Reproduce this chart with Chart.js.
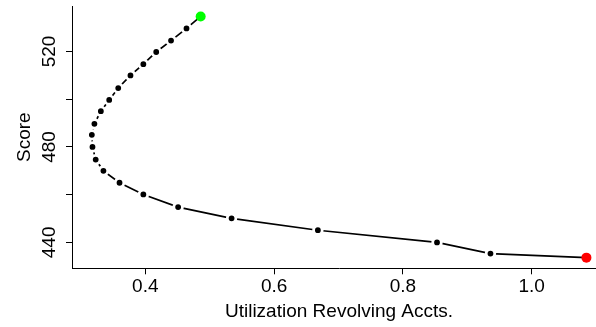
<!DOCTYPE html>
<html>
<head>
<meta charset="utf-8">
<script src="https://cdn.jsdelivr.net/npm/chart.js@4.4.1/dist/chart.umd.min.js"></script>
<style>
  html, body { margin: 0; padding: 0; overflow: hidden; background: #fff; }
  /* the plot runs a little past the right edge of the picture, as in the original */
  #wrap { width: 611px; height: 327px; }
</style>
</head>
<body>
<div id="wrap"><canvas id="grafico"></canvas></div>
<script>
// utilization values, one per step of the score curve
const utilizacao = [0.486, 0.464, 0.440, 0.417, 0.397, 0.377, 0.358, 0.344, 0.331, 0.321, 0.317, 0.318,
                    0.323, 0.335, 0.360, 0.397, 0.451, 0.534, 0.668, 0.853, 0.936, 1.085];
const score = [534.7, 529.7, 524.6, 519.8, 514.7, 510.0, 504.7, 499.7, 495.0, 489.7, 485.1, 480.0,
               474.7, 470.0, 465.0, 460.1, 454.8, 450.1, 445.1, 440.0, 435.3, 433.6];
const ticksX = [0.4, 0.6, 0.8, 1.0];
const ticksY = [440, 480, 520]; // labelled ticks (460 and 500 only get a mark)

const pontos = utilizacao.map((x, i) => ({ x: x, y: score[i] }));
const ultimo = pontos.length - 1;

Chart.defaults.font.family = '"Liberation Sans", Arial, sans-serif';
Chart.defaults.color = '#000';

const grafico = document.getElementById('grafico');

new Chart(grafico, {
  type: 'scatter',
  data: {
    datasets: [{
      data: pontos,
      showLine: true,
      tension: 0,
      borderColor: '#000',
      borderWidth: 1.7,
      // white ring around each dot leaves the small gap in the line
      pointRadius: pontos.map((p, i) => (i === 0 || i === ultimo) ? 5 : 4.3),
      pointBorderWidth: pontos.map((p, i) => (i === 0 || i === ultimo) ? 0 : 2.8),
      pointBorderColor: '#fff',
      pointBackgroundColor: pontos.map((p, i) => i === 0 ? '#00ff00' : (i === ultimo ? '#ff0000' : '#000')),
      pointHoverRadius: 0
    }]
  },
  options: {
    responsive: true,
    maintainAspectRatio: false,
    animation: false,
    events: [],
    layout: { padding: { left: 13, top: 6, right: 0, bottom: 3.6 } },
    plugins: {
      legend: { display: false },
      tooltip: { enabled: false }
    },
    scales: {
      x: {
        type: 'linear',
        min: 0.2862,
        max: 1.1154,
        grid: { drawOnChartArea: false, drawTicks: true, tickLength: 6, color: '#000' },
        border: { display: true, color: '#000', width: 1 },
        ticks: {
          stepSize: 0.2,
          includeBounds: false,
          maxRotation: 0,
          padding: 1,
          font: { size: 19 },
          callback: v => ticksX.some(t => Math.abs(t - v) < 1e-6) ? v.toFixed(1) : ''
        },
        title: {
          display: true,
          text: 'Utilization Revolving Accts.',
          font: { size: 19 },
          padding: { top: 1.5, bottom: 0 }
        }
      },
      y: {
        type: 'linear',
        min: 429.14,
        max: 539.08,
        grid: { drawOnChartArea: false, drawTicks: true, tickLength: 6, color: '#000' },
        border: { display: true, color: '#000', width: 1 },
        ticks: {
          stepSize: 20,
          includeBounds: false,
          minRotation: 90,
          maxRotation: 90,
          crossAlign: 'center',
          padding: 0,
          font: { size: 19 },
          callback: v => ticksY.includes(v) ? v : ''
        },
        title: {
          display: true,
          text: 'Score',
          font: { size: 19 },
          padding: { top: 0, bottom: 7.4 }
        },
        afterFit: s => { s.paddingTop = 0; }
      }
    }
  }
});
</script>
</body>
</html>
